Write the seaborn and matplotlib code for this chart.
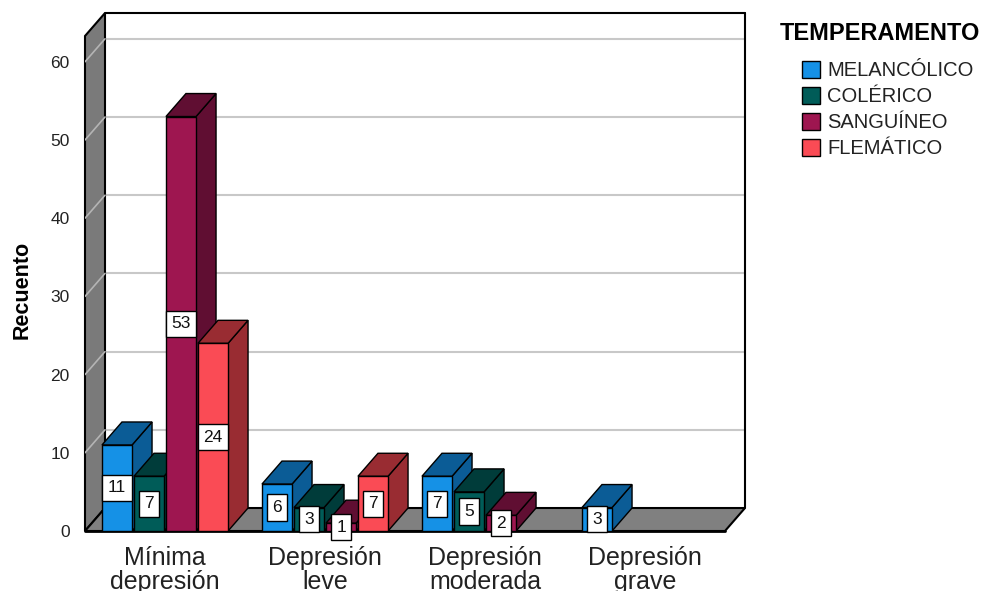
import pandas as pd
import matplotlib.pyplot as plt
import seaborn as sns
from matplotlib.patches import Polygon, Patch

# data
categorias = ['Mínima\ndepresión', 'Depresión\nleve', 'Depresión\nmoderada', 'Depresión\ngrave']
temperamentos = ['MELANCÓLICO', 'COLÉRICO', 'SANGUÍNEO', 'FLEMÁTICO']
melancolico = [11, 6, 7, 3]
colerico = [7, 3, 5, 0]
sanguineo = [53, 1, 2, 0]
flematico = [24, 7, 0, 0]

front_colors = ['#1591e6', '#005c58', '#9e1650', '#fa4b55']
dark_colors = ['#0b5c96', '#003c3a', '#600e32', '#992c32']

df = pd.DataFrame({
    'Depresion': categorias * 4,
    'Temperamento': [t for t in temperamentos for _ in categorias],
    'Recuento': melancolico + colerico + sanguineo + flematico,
})

sns.set_style('white')
plt.rcParams['font.family'] = ['Liberation Sans', 'DejaVu Sans']

fig = plt.figure(figsize=(9.97, 5.91), dpi=100)
ax = fig.add_axes([85 / 997, 60 / 591, 660 / 997, 518 / 591])

g = sns.barplot(data=df, x='Depresion', y='Recuento', hue='Temperamento',
                hue_order=temperamentos, order=categorias, palette=front_colors,
                saturation=1, errorbar=None, gap=0.06, edgecolor='black',
                linewidth=1, ax=ax)
ax.get_legend().remove()

# 3d offsets (data units)
dx = 0.125
dy = 2.94
wall_top = 63.3
x_left, x_right = -0.5, 3.5

ax.set_xlim(x_left, x_right + dx)
ax.set_ylim(0, wall_top + dy)

# walls and floor
for v in range(10, 61, 10):
    ax.plot([x_left + dx, x_right + dx], [v + dy, v + dy], color='#c8c8c8', lw=1.5, zorder=0.5)
left_wall = Polygon([(x_left, 0), (x_left, wall_top), (x_left + dx, wall_top + dy), (x_left + dx, dy)],
                    closed=True, fc='#7a7a7a', ec='black', lw=1.5, zorder=1, clip_on=False)
ax.add_patch(left_wall)
for v in range(10, 61, 10):
    ax.plot([x_left, x_left + dx], [v, v + dy], color='#b4b4b4', lw=1.2, zorder=1.1)
floor = Polygon([(x_left, 0), (x_right, 0), (x_right + dx, dy), (x_left + dx, dy)],
                closed=True, fc='#808080', ec='black', lw=1.5, zorder=1, clip_on=False)
ax.add_patch(floor)
ax.plot([x_left + dx, x_right + dx], [wall_top + dy, wall_top + dy], color='black', lw=1.5, zorder=1, clip_on=False)
ax.plot([x_right + dx, x_right + dx], [dy, wall_top + dy], color='black', lw=1.5, zorder=1, clip_on=False)
ax.plot([x_left, x_right], [0, 0], color='black', lw=2, zorder=1.2, clip_on=False)

# bars in 3d: order left to right
bars = []
for i, cont in enumerate(ax.containers):
    for rect in cont:
        bars.append((rect.get_x(), rect, i))
bars.sort(key=lambda b: b[0])

for rank, (x0, rect, i) in enumerate(bars):
    h = rect.get_height()
    w = rect.get_width()
    if h <= 0:
        rect.set_visible(False)
        continue
    z = 3 + 2 * rank
    top = Polygon([(x0, h), (x0 + dx, h + dy), (x0 + w + dx, h + dy), (x0 + w, h)],
                  closed=True, fc=dark_colors[i], ec='black', lw=1, zorder=z)
    side = Polygon([(x0 + w, 0), (x0 + w + dx, dy), (x0 + w + dx, h + dy), (x0 + w, h)],
                   closed=True, fc=dark_colors[i], ec='black', lw=1, zorder=z)
    ax.add_patch(side)
    ax.add_patch(top)
    rect.set_zorder(z + 1)
    ax.text(x0 + w / 2, h / 2, f'{int(h)}', ha='center', va='center', fontsize=12.5,
            color='#111111', zorder=100,
            bbox=dict(boxstyle='square,pad=0.32', fc='white', ec='black', lw=1))

for s in ax.spines.values():
    s.set_visible(False)

ax.set_yticks(range(0, 61, 10))
ax.tick_params(axis='y', length=0, pad=11, labelsize=12.5, labelcolor='#222222')
ax.tick_params(axis='x', length=0, pad=11, labelsize=18, labelcolor='#222222')
ax.set_xticks(range(len(categorias)))
ax.set_xticklabels(categorias, linespacing=0.98)
ax.set_xlabel('')
ax.set_ylabel('')

fig.text(22 / 997, 1 - 290 / 591, 'Recuento', rotation=90, ha='center', va='center',
         fontsize=15.5, fontweight='bold', color='black')

# legend
fig.text(780 / 997, 1 - 34 / 591, 'TEMPERAMENTO', ha='left', va='center',
         fontsize=17, fontweight='bold', color='black')
handles = [Patch(facecolor=c, edgecolor='black', lw=1) for c in front_colors]
leg = fig.legend(handles, temperamentos, loc='upper left',
                 bbox_to_anchor=(802 / 997, 1 - 61 / 591), frameon=False,
                 fontsize=14.5, handlelength=0.9, handleheight=0.9,
                 handletextpad=0.35, labelspacing=0.33, borderaxespad=0, borderpad=0)
for t in leg.get_texts():
    t.set_color('#222222')

plt.savefig('out.png', dpi=100)
